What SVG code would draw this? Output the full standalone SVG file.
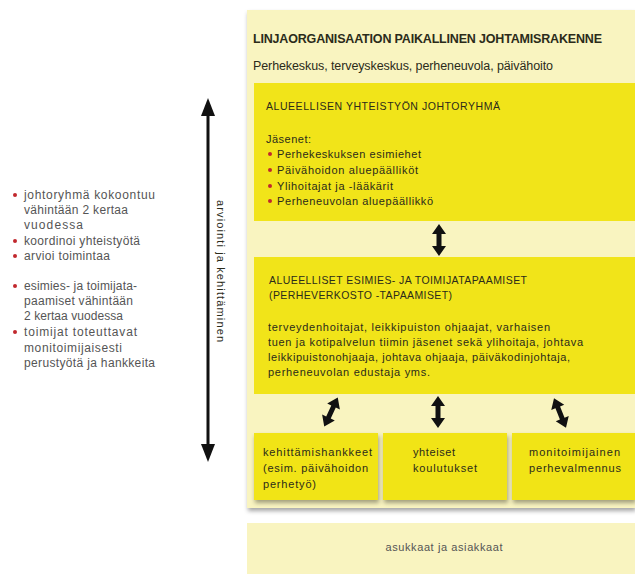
<svg xmlns="http://www.w3.org/2000/svg" width="635" height="574" viewBox="0 0 635 574">
<defs>
<style>
.pale{fill:#f9f4c0}
.yel{fill:#f1e419}
.t{font-family:"Liberation Sans",Arial,sans-serif;fill:#2b2b1a}
.g{font-family:"Liberation Sans",Arial,sans-serif;fill:#555}
.b{font-weight:bold}
.dot{fill:#c1272d}
.arr{fill:#111}
</style>
<filter id="sh" x="-10%" y="-10%" width="130%" height="140%">
<feDropShadow dx="1" dy="3" stdDeviation="2" flood-color="#000" flood-opacity="0.35"/>
</filter>
<path id="dbl" d="M0,-16 L7,-6 L2.5,-6 L2.5,6 L7,6 L0,16 L-7,6 L-2.5,6 L-2.5,-6 L-7,-6 Z"/>
</defs>
<rect width="635" height="574" fill="#fff"/>

<g id="outer">
<rect class="pale" x="247" y="10" width="388" height="498" filter="url(#sh)"/>
<text class="t b" x="253" y="43" font-size="12.5" textLength="349">LINJAORGANISAATION PAIKALLINEN JOHTAMISRAKENNE</text>
<text class="t" x="253" y="70" font-size="12.5" textLength="300">Perhekeskus, terveyskeskus, perheneuvola, päivähoito</text>
</g>

<g id="johtoryhma">
<rect class="yel" x="254" y="83" width="381" height="138"/>
<text class="t" x="266" y="110" font-size="10.5" textLength="234">ALUEELLISEN YHTEISTYÖN JOHTORYHMÄ</text>
<text class="t" x="266" y="143" font-size="11" textLength="45">Jäsenet:</text>
<circle class="dot" cx="270" cy="154" r="2"/>
<text class="t" x="277" y="158" font-size="11" textLength="144">Perhekeskuksen esimiehet</text>
<circle class="dot" cx="270" cy="170" r="2"/>
<text class="t" x="277" y="174" font-size="11" textLength="141">Päivähoidon aluepäälliköt</text>
<circle class="dot" cx="270" cy="186" r="2"/>
<text class="t" x="277" y="190" font-size="11" textLength="116">Ylihoitajat ja -lääkärit</text>
<circle class="dot" cx="270" cy="201" r="2"/>
<text class="t" x="277" y="205" font-size="11" textLength="156">Perheneuvolan aluepäällikkö</text>
</g>

<g id="tapaamiset">
<rect class="yel" x="254" y="257" width="381" height="137"/>
<text class="t" x="269" y="284" font-size="10.5" textLength="258">ALUEELLISET ESIMIES- JA TOIMIJATAPAAMISET</text>
<text class="t" x="269" y="299" font-size="10.5" textLength="183">(PERHEVERKOSTO -TAPAAMISET)</text>
<text class="t" x="268" y="331" font-size="11" textLength="282">terveydenhoitajat, leikkipuiston ohjaajat, varhaisen</text>
<text class="t" x="268" y="346" font-size="11" textLength="315">tuen ja kotipalvelun tiimin jäsenet sekä ylihoitaja, johtava</text>
<text class="t" x="268" y="361" font-size="11" textLength="302">leikkipuistonohjaaja, johtava ohjaaja, päiväkodinjohtaja,</text>
<text class="t" x="268" y="376" font-size="11" textLength="162">perheneuvolan edustaja yms.</text>
</g>

<g id="kehittamishankkeet">
<rect class="yel" x="254" y="433" width="124" height="67" filter="url(#sh)"/>
<text class="t" x="263" y="456" font-size="11" textLength="109">kehittämishankkeet</text>
<text class="t" x="263" y="472" font-size="11" textLength="105">(esim. päivähoidon</text>
<text class="t" x="263" y="488" font-size="11" textLength="53">perhetyö)</text>
</g>

<g id="koulutukset">
<rect class="yel" x="383" y="433" width="124" height="67" filter="url(#sh)"/>
<text class="t" x="413" y="456" font-size="11" textLength="42">yhteiset</text>
<text class="t" x="413" y="472" font-size="11" textLength="64">koulutukset</text>
</g>

<g id="perhevalmennus">
<rect class="yel" x="512" y="433" width="123" height="67" filter="url(#sh)"/>
<text class="t" x="529" y="456" font-size="11" textLength="91">monitoimijainen</text>
<text class="t" x="529" y="472" font-size="11" textLength="92">perhevalmennus</text>
</g>

<g id="asukkaat">
<rect class="pale" x="247" y="523" width="388" height="51"/>
<text class="g" x="444" y="551" font-size="11" text-anchor="middle" textLength="117">asukkaat ja asiakkaat</text>
</g>

<g id="left-notes">
<circle class="dot" cx="15" cy="195" r="2"/>
<text class="g" x="24" y="199" font-size="12" textLength="131">johtoryhmä kokoontuu</text>
<text class="g" x="24" y="214" font-size="12" textLength="104">vähintään 2 kertaa</text>
<text class="g" x="24" y="229" font-size="12" textLength="59">vuodessa</text>
<circle class="dot" cx="15" cy="241" r="2"/>
<text class="g" x="24" y="245" font-size="12" textLength="116">koordinoi yhteistyötä</text>
<circle class="dot" cx="15" cy="256" r="2"/>
<text class="g" x="24" y="260" font-size="12" textLength="86">arvioi toimintaa</text>
<circle class="dot" cx="15" cy="286" r="2"/>
<text class="g" x="24" y="290" font-size="12" textLength="113">esimies- ja toimijata-</text>
<text class="g" x="24" y="305" font-size="12" textLength="109">paamiset vähintään</text>
<text class="g" x="24" y="320" font-size="12" textLength="99">2 kertaa vuodessa</text>
<circle class="dot" cx="15" cy="332" r="2"/>
<text class="g" x="24" y="336" font-size="12" textLength="113">toimijat toteuttavat</text>
<text class="g" x="24" y="352" font-size="12" textLength="98">monitoimijaisesti</text>
<text class="g" x="24" y="367" font-size="12" textLength="131">perustyötä ja hankkeita</text>
</g>

<g id="connectors">
<line x1="208" y1="112" x2="208" y2="448" stroke="#111" stroke-width="3"/>
<polygon class="arr" points="208,98 215,116 201,116"/>
<polygon class="arr" points="208,462 215,444 201,444"/>
<text class="t" transform="translate(217,271) rotate(90)" font-size="11" text-anchor="middle" textLength="142" fill="#333">arviointi ja kehittäminen</text>
<use href="#dbl" class="arr" transform="translate(439,240)"/>
<use href="#dbl" class="arr" transform="translate(438,412)"/>
<use href="#dbl" class="arr" transform="translate(331,412) rotate(25)"/>
<use href="#dbl" class="arr" transform="translate(560,413) rotate(-22)"/>
</g>
</svg>
